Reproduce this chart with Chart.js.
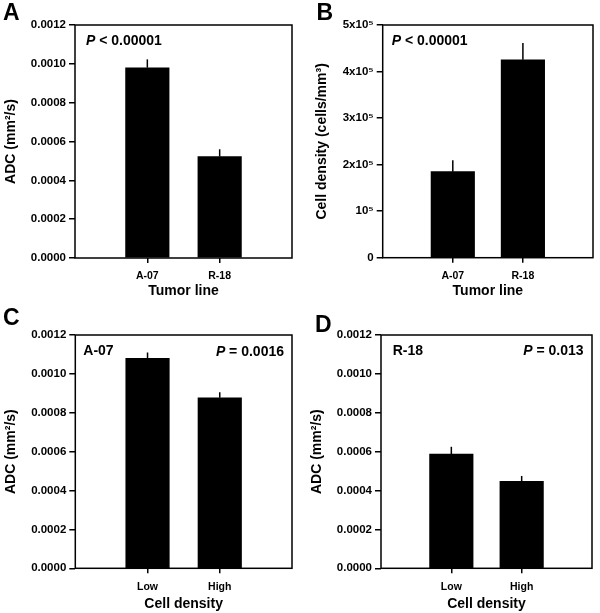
<!DOCTYPE html>
<html><head><meta charset="utf-8">
<script src="https://cdn.jsdelivr.net/npm/chart.js@4/dist/chart.umd.min.js"></script>
<style>
html,body{margin:0;padding:0;background:#fff;}
#wrap{position:relative;width:600px;height:613px;overflow:hidden;}
canvas{position:absolute;}
</style></head><body>
<div id="wrap">
<canvas id="cA" width="300" height="300" style="left:0;top:0"></canvas>
<canvas id="cB" width="300" height="300" style="left:300px;top:0"></canvas>
<canvas id="cC" width="300" height="313" style="left:0;top:300px"></canvas>
<canvas id="cD" width="300" height="313" style="left:300px;top:300px"></canvas>
</div>
<script>
// ---- data ----
const tumorLines = ['A-07', 'R-18'];
const densityGroups = ['Low', 'High'];
const adcByLine = [0.00098, 0.000522];
const adcByLineErr = [0.000043, 0.000038];
const densityByLine = [184800, 425400];
const densityByLineErr = [24500, 36000];
const adcA07 = [0.00108, 0.000877];
const adcA07Err = [0.00003, 0.000028];
const adcR18 = [0.000588, 0.000447];
const adcR18Err = [0.000037, 0.000028];
const adcTickLabels = ['0.0000', '0.0002', '0.0004', '0.0006', '0.0008', '0.0010', '0.0012'];
const densityTickLabels = ['0', '10\u2075', '2x10\u2075', '3x10\u2075', '4x10\u2075', '5x10\u2075'];

const FONT = '"Liberation Sans", Arial, Helvetica, sans-serif';

const errorBars = {
  id: 'errorBars',
  afterDatasetsDraw(chart, args, opts) {
    const meta = chart.getDatasetMeta(0);
    const ys = chart.scales.y;
    const vals = chart.data.datasets[0].data;
    const ctx = chart.ctx;
    ctx.save();
    ctx.strokeStyle = '#000';
    ctx.lineWidth = 1.5;
    meta.data.forEach((bar, i) => {
      const e = opts.errs[i];
      if (e == null || vals[i] == null) return;
      const top = ys.getPixelForValue(vals[i] + e);
      ctx.beginPath();
      ctx.moveTo(bar.x, bar.y);
      ctx.lineTo(bar.x, top);
      ctx.stroke();
    });
    ctx.restore();
  }
};

const frameAndText = {
  id: 'frameAndText',
  afterDraw(chart, args, opts) {
    const ctx = chart.ctx;
    const a = chart.chartArea;
    ctx.save();
    ctx.strokeStyle = '#000';
    ctx.lineWidth = 1.5;
    ctx.strokeRect(a.left, a.top, a.right - a.left, a.bottom - a.top);
    ctx.fillStyle = '#000';
    ctx.textBaseline = 'alphabetic';
    ctx.font = 'bold 23px ' + FONT;
    ctx.textAlign = 'left';
    ctx.fillText(opts.letter, opts.letterX, opts.letterY);
    (opts.texts || []).forEach(t => {
      ctx.font = 'bold 14px ' + FONT;
      if (t.italicP) {
        ctx.font = 'italic bold 14px ' + FONT;
        const wp = ctx.measureText('P').width;
        ctx.font = 'bold 14px ' + FONT;
        const wr = ctx.measureText(t.rest).width;
        const w = wp + wr;
        const x = t.align === 'right' ? a.right - t.dx - w : a.left + t.dx;
        ctx.font = 'italic bold 14px ' + FONT;
        ctx.fillText('P', x, a.top + t.dy);
        ctx.font = 'bold 14px ' + FONT;
        ctx.fillText(t.rest, x + wp, a.top + t.dy);
      } else {
        const w = ctx.measureText(t.text).width;
        const x = t.align === 'right' ? a.right - t.dx - w : a.left + t.dx;
        ctx.fillText(t.text, x, a.top + t.dy);
      }
    });
    ctx.restore();
  }
};

function makeChart(id, cats, vals, errs, cfg) {
  const canvas = document.getElementById(id);
  const W = canvas.width, H = canvas.height;
  const labels = [''].concat(cats, ['']);
  const data = [null].concat(vals, [null]);
  const errData = [null].concat(errs, [null]);
  const yTicks = cfg.tickLabels;
  return new Chart(canvas, {
    type: 'bar',
    data: {
      labels: labels,
      datasets: [{
        data: data,
        backgroundColor: '#000',
        borderColor: '#000',
        borderWidth: 0,
        barThickness: 43.5
      }]
    },
    options: {
      responsive: false,
      animation: false,
      devicePixelRatio: 1,
      layout: { padding: { top: cfg.area.t, right: W - cfg.area.r, left: 0, bottom: 0 } },
      plugins: {
        legend: { display: false },
        tooltip: { enabled: false },
        errorBars: { errs: errData },
        frameAndText: cfg.ann
      },
      scales: {
        x: {
          type: 'category',
          offset: false,
          border: { display: false },
          grid: {
            offset: false,
            drawOnChartArea: false, drawTicks: true, tickLength: 5, lineWidth: 1.5,
            color: c => (c.index === 0 || c.index === labels.length - 1) ? 'rgba(0,0,0,0)' : '#000'
          },
          ticks: { color: '#000', font: { family: FONT, size: 10.5, weight: 'bold' }, padding: cfg.xTickPad, maxRotation: 0, autoSkip: false },
          title: { display: true, text: cfg.xTitle, color: '#000', font: { family: FONT, size: 14, weight: 'bold' }, padding: { top: 0, bottom: 0 } },
          afterFit: s => { s.height = H - cfg.area.b; }
        },
        y: {
          type: 'linear',
          min: 0,
          max: cfg.yMax,
          border: { display: false },
          grid: { drawOnChartArea: false, drawTicks: true, tickLength: 6, lineWidth: 1.5, color: '#000' },
          ticks: {
            stepSize: cfg.yMax / (yTicks.length - 1),
            color: '#000',
            font: { family: FONT, size: 11.5, weight: 'bold' },
            padding: 3,
            callback: (v, i) => yTicks[i]
          },
          title: { display: true, text: cfg.yTitle, color: '#000', font: { family: FONT, size: 14, weight: 'bold' }, padding: { top: cfg.yTitlePad, bottom: 0 } },
          afterFit: s => { s.width = cfg.area.l; }
        }
      }
    },
    plugins: [errorBars, frameAndText]
  });
}

makeChart('cA', tumorLines, adcByLine, adcByLineErr, {
  yMax: 0.0012, tickLabels: adcTickLabels, xTickPad: 7,
  yTitle: 'ADC (mm\u00B2/s)', xTitle: 'Tumor line', yTitlePad: 3,
  area: { l: 75, r: 292, t: 25, b: 258 },
  ann: { letter: 'A', letterX: 3, letterY: 20,
    texts: [{ italicP: true, rest: ' < 0.00001', align: 'left', dx: 11, dy: 20 }] }
});
makeChart('cB', tumorLines, densityByLine, densityByLineErr, {
  yMax: 500000, tickLabels: densityTickLabels, xTickPad: 7,
  yTitle: 'Cell density (cells/mm\u00B3)', xTitle: 'Tumor line', yTitlePad: 14,
  area: { l: 82.7, r: 297.7, t: 25, b: 257.7 },
  ann: { letter: 'B', letterX: 16.5, letterY: 19.5,
    texts: [{ italicP: true, rest: ' < 0.00001', align: 'left', dx: 9, dy: 20 }] }
});
makeChart('cC', densityGroups, adcA07, adcA07Err, {
  yMax: 0.0012, tickLabels: adcTickLabels, xTickPad: 8,
  yTitle: 'ADC (mm\u00B2/s)', xTitle: 'Cell density', yTitlePad: 3,
  area: { l: 75.3, r: 292.3, t: 35, b: 268.3 },
  ann: { letter: 'C', letterX: 3, letterY: 25,
    texts: [{ text: 'A-07', align: 'left', dx: 8, dy: 20 },
            { italicP: true, rest: ' = 0.0016', align: 'right', dx: 8, dy: 21 }] }
});
makeChart('cD', densityGroups, adcR18, adcR18Err, {
  yMax: 0.0012, tickLabels: adcTickLabels, xTickPad: 8,
  yTitle: 'ADC (mm\u00B2/s)', xTitle: 'Cell density', yTitlePad: 9,
  area: { l: 81, r: 297.7, t: 35, b: 268.3 },
  ann: { letter: 'D', letterX: 15, letterY: 31.5,
    texts: [{ text: 'R-18', align: 'left', dx: 11.7, dy: 20 },
            { italicP: true, rest: ' = 0.013', align: 'right', dx: 8.4, dy: 20 }] }
});
</script>
</body></html>
